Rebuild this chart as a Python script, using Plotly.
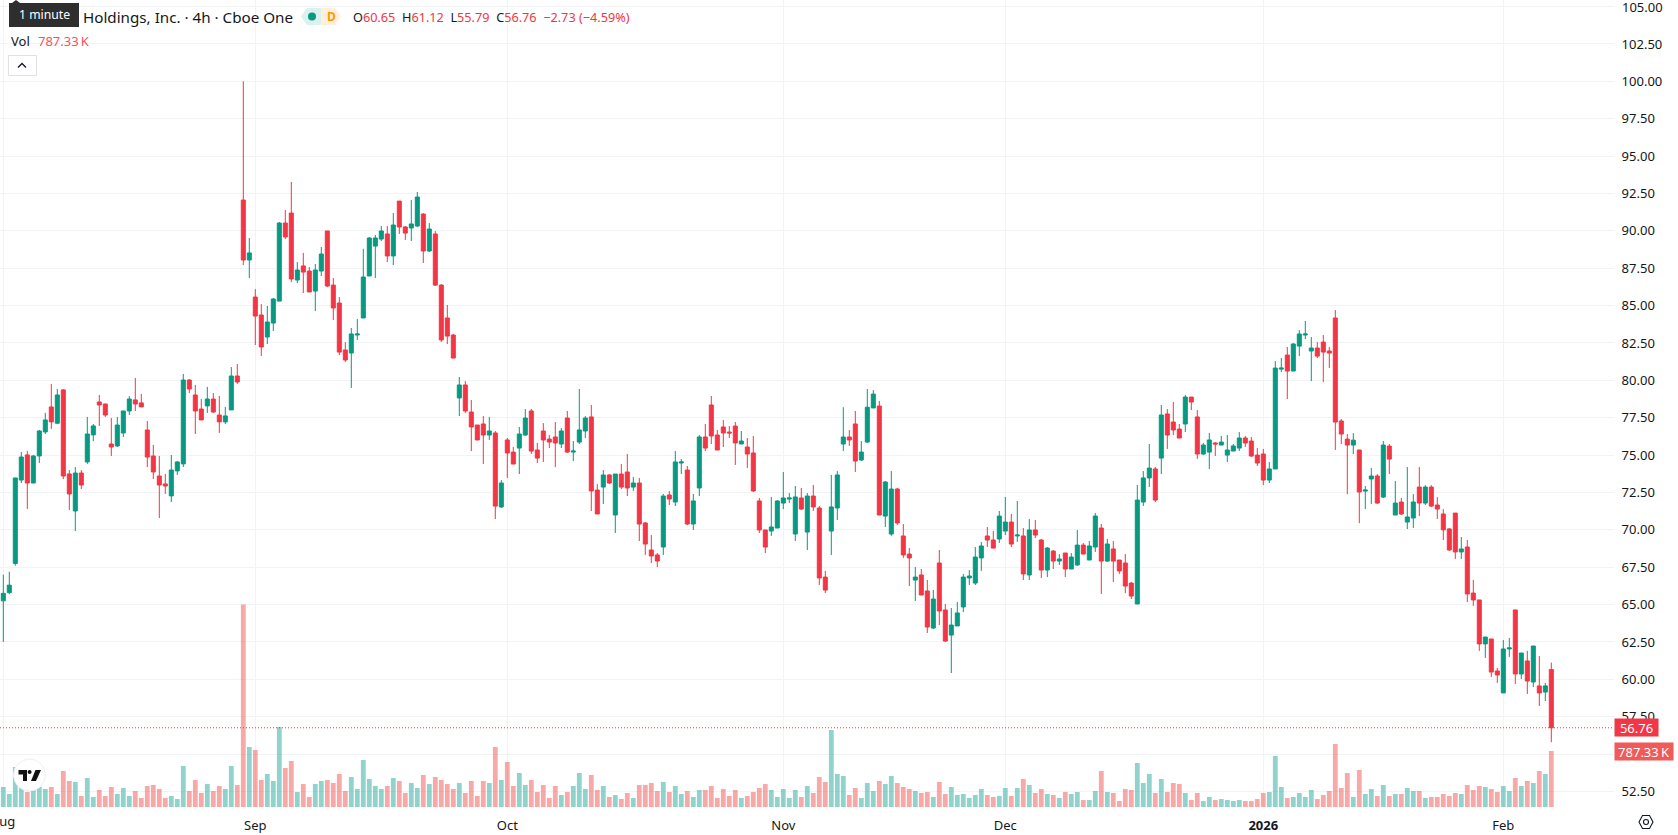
import plotly.graph_objects as go

# Four-hour OHLC bars and volume (thousands of shares), oldest first
opens = [
    65.25,65.8,67.75,73.33,75.01,73.13,74.94,76.55,78.22,77.13,
    79.36,73.74,71.26,73.8,74.54,76.35,78.55,78.42,75.74,75.61,
    76.48,77.95,78.69,78.49,76.68,74.94,73.6,73.07,72.27,73.94,
    74.41,80.02,79.02,78.08,78.29,78.75,77.68,77.22,78.02,80.29,
    92.06,88.05,85.57,84.37,82.9,83.83,85.3,90.52,91.19,86.71,
    87.65,87.31,85.97,87.31,89.99,86.37,85.17,82.03,81.83,83.03,
    84.17,86.98,88.98,89.45,89.79,88.32,91.99,90.26,90.19,90.32,
    91.12,88.65,89.79,86.37,84.17,83.03,78.82,79.69,77.88,77.01,
    77.08,76.34,76.48,71.53,76.01,75.2,75.47,76.34,77.95,75.34,
    76.61,76.07,76.21,75.74,77.48,75.2,75.87,76.61,77.55,72.66,
    72.86,73.67,70.99,73.73,73.87,72.86,73.13,70.46,68.65,68.32,
    68.85,72.33,71.86,74.47,74.0,70.39,72.8,76.21,78.35,76.34,
    76.88,76.54,76.94,75.74,75.54,75.14,71.93,69.99,69.92,70.12,
    71.79,72.06,69.72,72.13,69.85,72.26,71.46,66.84,69.92,71.46,
    75.74,76.21,77.08,74.67,75.87,78.15,78.28,70.92,69.72,72.73,
    69.59,68.38,66.64,66.98,65.91,63.43,67.78,64.64,62.96,63.57,
    64.84,66.78,66.44,68.12,69.59,69.32,69.39,69.92,70.52,69.59,
    69.59,66.98,69.99,69.32,67.31,68.58,67.91,68.45,67.38,67.65,
    68.98,67.98,68.85,70.12,67.91,68.72,67.98,67.78,66.44,65.04,
    71.86,73.47,74.07,74.8,77.75,77.21,76.74,77.08,78.88,77.55,
    75.07,75.2,75.81,75.67,75.0,75.27,75.47,76.14,75.94,75.0,
    75.07,73.33,74.07,80.75,81.69,80.62,82.29,83.03,81.96,82.16,
    82.56,81.96,84.17,77.28,76.07,75.67,75.34,72.59,73.4,73.6,
    72.19,75.6,70.99,71.86,70.52,70.79,72.86,71.79,72.86,71.66,
    71.06,70.06,71.12,68.52,68.85,65.77,65.31,62.37,62.7,60.56,
    59.09,62.03,64.64,60.36,61.23,59.82,59.56,59.15,60.65,
]
highs = [
    67.0,67.2,73.47,75.21,75.28,75.01,76.68,77.82,79.76,79.42,
    79.42,74.0,74.2,74.0,77.55,77.08,79.02,78.42,77.48,77.55,
    77.95,78.95,80.16,79.09,77.28,75.68,74.94,73.74,75.01,74.61,
    80.43,80.09,79.69,78.75,79.56,79.15,78.95,78.22,80.89,81.09,
    100.0,89.52,86.1,85.1,84.97,85.51,90.59,91.39,93.27,87.91,
    88.52,87.58,87.78,88.92,89.99,86.84,85.57,82.56,83.5,84.1,
    88.8,89.59,89.72,90.32,90.32,91.19,91.99,90.32,92.06,92.6,
    91.19,90.52,89.99,86.44,85.04,83.1,80.22,79.95,78.68,77.01,
    77.61,77.55,76.61,73.33,76.14,75.54,76.88,78.08,78.08,75.81,
    77.14,76.34,77.21,76.81,77.95,75.94,79.42,77.61,78.35,73.06,
    74.0,73.73,73.73,74.4,75.07,73.53,73.47,70.52,69.65,68.45,
    72.4,72.6,75.27,74.74,74.27,72.4,76.34,77.08,78.95,76.68,
    77.35,76.94,77.21,76.61,76.14,76.28,72.13,69.99,72.2,72.0,
    73.87,72.46,72.93,72.8,72.46,73.0,71.59,67.25,73.67,73.93,
    78.2,76.68,77.95,75.94,79.42,79.35,78.62,73.26,73.93,72.8,
    70.39,68.78,67.51,67.38,66.64,65.97,68.65,65.04,64.77,65.17,
    67.04,67.31,68.85,69.19,70.19,69.92,71.26,72.2,71.06,71.93,
    70.12,70.72,70.66,69.39,68.85,68.65,68.38,68.45,68.45,69.99,
    69.12,69.25,71.12,70.39,69.39,69.25,67.98,68.38,66.51,73.0,
    73.93,75.74,74.2,78.35,78.08,78.55,77.08,79.02,78.88,78.01,
    75.81,76.48,75.87,76.28,76.34,75.74,76.54,76.28,76.21,75.47,
    75.41,74.54,81.29,81.49,82.23,82.49,83.36,83.97,82.9,82.56,
    83.03,82.23,84.7,77.41,76.41,76.47,75.34,72.93,74.13,73.73,
    75.94,75.74,73.26,72.13,74.2,72.39,74.2,72.99,72.99,72.19,
    71.39,70.12,71.12,69.52,69.32,66.65,65.31,62.83,62.7,60.76,
    62.63,62.77,64.64,61.76,61.9,62.23,61.56,59.76,61.12,
]
lows = [
    62.5,65.7,67.6,73.13,71.40,73.13,74.47,76.41,76.75,77.08,
    73.4,71.33,69.92,72.73,74.41,75.94,76.95,77.55,74.94,75.54,
    76.21,77.68,77.95,78.22,74.2,73.4,70.79,72.4,71.86,73.67,
    74.2,79.15,76.41,77.35,77.82,77.82,76.48,77.08,78.02,79.76,
    87.71,86.84,82.36,81.63,82.43,83.3,85.3,89.45,86.58,86.51,
    85.84,85.91,84.64,86.98,86.24,84.03,81.69,81.23,79.49,82.7,
    84.17,86.98,86.84,89.32,87.91,87.71,89.79,89.39,89.32,90.26,
    87.85,88.58,86.31,82.56,82.43,81.49,77.61,77.81,75.27,76.01,
    74.4,76.01,70.72,71.46,73.47,74.4,73.73,76.28,75.07,74.47,
    74.54,75.47,74.2,75.47,75.14,74.6,75.74,76.14,71.26,71.06,
    71.73,73.06,69.79,72.73,72.26,72.6,69.25,68.32,67.78,67.51,
    68.32,71.66,71.59,73.73,70.32,69.99,72.26,75.27,75.74,75.34,
    75.54,76.14,74.34,75.74,74.13,72.53,69.79,68.45,69.59,70.12,
    71.39,71.79,69.25,71.33,68.65,71.26,66.31,65.77,68.32,70.66,
    75.27,75.61,73.87,74.6,75.81,78.15,70.99,70.19,69.59,70.32,
    68.12,66.24,65.24,65.64,63.1,63.37,63.63,62.5,60.42,63.57,
    64.5,66.31,66.31,67.25,68.85,68.78,69.12,69.65,68.85,69.19,
    66.64,66.64,69.45,66.78,66.84,67.38,67.65,66.84,67.38,67.58,
    68.38,67.98,68.52,65.71,67.85,66.51,67.05,65.77,65.37,65.04,
    71.59,72.86,71.86,73.73,75.41,76.34,76.14,76.54,78.01,74.74,
    75.0,74.07,74.94,75.67,74.54,75.27,75.27,75.54,74.87,74.27,
    73.0,73.13,74.07,80.55,78.75,80.62,81.62,82.76,79.95,81.49,
    79.89,80.82,75.34,75.74,72.39,75.07,70.45,71.39,71.72,71.72,
    72.13,73.73,70.99,70.99,70.05,70.12,70.92,71.66,71.52,70.72,
    69.32,68.59,68.05,68.05,65.17,64.91,61.9,61.43,60.16,59.76,
    59.09,61.5,59.69,60.02,59.02,59.49,58.22,58.55,55.79,
]
closes = [
    65.75,66.3,73.47,74.87,73.13,74.94,76.61,77.35,77.22,79.02,
    73.6,72.4,73.8,73.0,76.41,76.95,78.35,77.68,75.54,77.01,
    77.95,78.75,78.42,78.22,74.87,73.87,73.0,72.93,74.0,74.54,
    80.02,79.42,77.95,77.35,78.75,77.88,77.22,77.62,80.29,79.89,
    88.05,88.52,84.3,82.23,83.9,85.44,90.52,89.59,86.78,87.38,
    87.24,85.91,87.38,88.45,86.31,84.84,81.89,81.36,83.10,83.10,
    86.91,89.52,89.52,89.99,88.32,90.39,90.26,89.85,90.46,92.26,
    88.65,90.12,86.37,82.7,82.96,81.49,79.69,77.95,76.88,76.01,
    76.34,76.61,71.59,73.13,75.14,74.4,76.41,77.48,75.27,74.8,
    76.01,75.87,75.81,76.61,75.2,75.27,76.68,77.48,72.6,71.06,
    73.67,73.13,73.73,72.86,72.8,73.13,70.39,69.05,68.25,67.91,
    72.26,72.06,74.54,74.54,70.39,71.93,76.21,75.47,76.28,75.34,
    76.48,76.48,75.81,75.94,75.07,72.6,69.99,68.85,70.19,71.93,
    72.13,72.13,72.2,71.39,72.26,71.53,66.78,65.97,71.53,73.67,
    76.21,76.01,74.6,75.2,78.2,79.08,70.99,73.2,72.73,70.46,
    68.32,68.12,66.84,65.64,63.5,65.37,64.57,62.56,63.63,64.44,
    66.84,66.91,68.18,68.92,69.32,68.78,70.92,70.52,69.05,69.65,
    67.05,69.99,69.65,67.31,68.78,67.91,68.05,67.38,68.18,68.98,
    68.38,68.92,70.92,67.91,69.05,67.91,67.25,66.24,65.57,71.99,
    73.47,74.13,71.99,77.68,76.34,76.68,76.14,78.88,78.55,75.07,
    75.67,76.01,75.74,75.87,75.34,75.61,76.14,75.81,74.94,74.47,
    73.33,74.07,80.82,80.82,80.62,82.43,83.1,83.1,82.16,81.62,
    81.89,81.82,77.21,76.41,75.67,76.0,72.53,72.66,73.6,71.79,
    75.67,74.73,71.79,71.06,70.86,71.86,71.79,72.86,71.59,71.39,
    70.0,68.65,68.52,68.72,65.71,65.31,62.37,62.83,60.49,60.29,
    62.03,62.1,60.36,61.76,59.89,62.23,59.09,59.56,56.76,
]
volumes = [
    281,183,562,267,211,253,281,253,281,183,
    506,366,352,155,408,141,239,155,281,183,
    267,155,225,127,295,309,253,127,155,112,
    576,225,380,197,323,225,295,253,576,309,
    2847,844,801,380,464,366,1125,548,647,211,
    323,141,323,366,380,337,464,225,422,253,
    661,394,295,253,295,408,366,197,337,267,
    450,323,422,380,323,253,337,197,366,155,
    366,337,844,380,633,295,478,309,380,211,
    309,127,295,169,211,295,478,253,450,239,
    295,141,169,112,197,127,309,309,337,225,
    352,211,295,183,225,141,239,239,295,127,
    253,155,239,127,155,211,267,323,239,141,
    253,127,239,141,295,197,422,352,1083,464,
    436,169,267,127,337,225,366,323,436,337,
    281,253,225,197,211,141,352,183,281,169,
    183,127,169,253,169,141,155,267,155,267,
    394,309,197,253,183,169,127,211,183,211,
    98,98,225,506,211,197,84,253,239,619,
    337,464,197,394,211,337,323,197,98,197,
    84,141,98,112,98,84,98,84,84,112,
    197,211,717,281,127,141,197,141,239,112,
    169,225,886,267,478,141,520,183,253,155,
    309,155,183,183,267,225,225,127,141,141,
    183,155,197,183,309,239,295,281,253,211,
    295,225,408,295,366,337,506,464,787.33,
]

month_bars = [0, 42, 84, 130, 167, 210, 250]
month_labels = ["Aug", "Sep", "Oct", "Nov", "Dec", "<b>2026</b>", "Feb"]
price_ticks = [52.5 + 2.5 * k for k in range(22)]
# 55.00 sits underneath the volume tag, so its label stays blank
price_labels = ["" if v == 55.0 else f"{v:.2f}" for v in price_ticks]

last_close = 56.76
last_volume = 787.33

UP = "#089981"
DOWN = "#F23645"
VOL_UP = "rgba(34,166,154,0.5)"
VOL_DOWN = "rgba(240,83,79,0.5)"
GRID = "#F2F3F4"
INK = "#131722"
FONT = "Noto Sans, sans-serif"

W, H = 1678, 835
PLOT_W, PLOT_H = 1614, 807


def px(x):
    return x / PLOT_W


def py(y):
    return (PLOT_H - y) / PLOT_H


def label(x, y, text, size=13, color=INK, **kw):
    return dict(xref="paper", yref="paper", x=px(x), y=py(y), text=text, showarrow=False,
                xanchor=kw.pop("xanchor", "left"), yanchor="middle",
                font=dict(family=FONT, size=size, color=color), **kw)


def rect(x0, y0, x1, y1, fill, line="rgba(0,0,0,0)", width=0):
    return dict(type="rect", xref="paper", yref="paper", x0=px(x0), x1=px(x1), y0=py(y1), y1=py(y0),
                fillcolor=fill, line=dict(color=line, width=width), layer="above")


def circle(cx, cy, r, fill, line="rgba(0,0,0,0)", width=0):
    return dict(type="circle", xref="paper", yref="paper", x0=px(cx - r), x1=px(cx + r),
                y0=py(cy + r), y1=py(cy - r), fillcolor=fill,
                line=dict(color=line, width=width), layer="above")


def poly(points, fill="rgba(0,0,0,0)", line="rgba(0,0,0,0)", width=0, closed=True):
    d = "M " + " L ".join(f"{px(a):.5f} {py(b):.5f}" for a, b in points) + (" Z" if closed else "")
    return dict(type="path", xref="paper", yref="paper", path=d, fillcolor=fill,
                line=dict(color=line, width=width), layer="above")


bars = list(range(len(closes)))
fig = go.Figure()

fig.add_trace(go.Candlestick(
    x=bars, open=opens, high=highs, low=lows, close=closes,
    increasing=dict(line=dict(color=UP, width=1), fillcolor=UP),
    decreasing=dict(line=dict(color=DOWN, width=1), fillcolor=DOWN),
    whiskerwidth=0, showlegend=False, hoverinfo="skip",
))
fig.add_trace(go.Bar(
    x=bars, y=volumes, yaxis="y2", width=0.8, showlegend=False, hoverinfo="skip",
    marker=dict(color=[VOL_DOWN if c < o else VOL_UP for o, c in zip(opens, closes)], line=dict(width=0)),
))

shapes = [
    # last-price guide
    dict(type="line", xref="paper", x0=0, x1=1, yref="y", y0=last_close, y1=last_close,
         line=dict(color=DOWN, width=1, dash="1px,2px"), layer="above"),
    # tooltip over the legend
    rect(9, 3, 79, 27, "#2E2E2E"),
    poly([(12, 3), (16, 0), (20, 3)], fill="#2E2E2E"),
    # market status pills
    poly([(307, 8), (321, 8), (321, 25), (307, 25), (301, 16.5)], fill="#DAF1EE"),
    poly([(321, 8), (335, 8), (341, 16.5), (335, 25), (321, 25)], fill="#FFF0DC"),
    circle(312, 16.5, 4, UP),
    # collapse button
    rect(8.5, 55.5, 36.5, 75.5, "#FFFFFF", line="#DFE1E6", width=1),
    poly([(18, 67.5), (22, 63.5), (26, 67.5)], line=INK, width=1.3, closed=False),
    # watermark badge
    circle(29.5, 775, 16, "#FFFFFF", line="#EDEEF0", width=1),
    poly([(18.5, 770), (27, 770), (27, 781), (23, 781), (23, 774.5), (18.5, 774.5)], fill="#111111"),
    circle(29.6, 772, 2, "#111111"),
    poly([(41, 770), (36, 781), (31, 781), (35.5, 770)], fill="#111111"),
    # settings hexagon
    poly([(1639, 822), (1642.5, 815.5), (1649.5, 815.5), (1653, 822), (1649.5, 828.5), (1642.5, 828.5)],
         line=INK, width=1.1),
    circle(1646, 822, 2.5, "rgba(0,0,0,0)", line=INK, width=1.1),
]

ohlc = ('<span style="color:%s">O</span><span style="color:%s">60.65</span>&nbsp;&nbsp;'
        '<span style="color:%s">H</span><span style="color:%s">61.12</span>&nbsp;&nbsp;'
        '<span style="color:%s">L</span><span style="color:%s">55.79</span>&nbsp;&nbsp;'
        '<span style="color:%s">C</span><span style="color:%s">56.76</span>&nbsp;&nbsp;'
        '<span style="color:%s">−2.73 (−4.59%%)</span>') % (INK, DOWN, INK, DOWN, INK, DOWN, INK, DOWN, DOWN)

annotations = [
    label(81, 16.5, "Holdings, Inc. · 4h · Cboe One", size=15.2),
    label(16.5, 15, "1 minute", size=12.2, color="#FFFFFF"),
    label(331, 16.5, "<b>D</b>", size=12, color="#FF9800", xanchor="center"),
    label(351, 16.5, ohlc, size=12.7),
    label(9, 41, "Vol", size=13),
    label(36, 41, "787.33\u2009K", size=13, color="#F7525F"),
    # edge labels that the axes would otherwise leave out
    dict(xref="x", yref="paper", x=month_bars[0], y=py(821), text=month_labels[0], showarrow=False,
         xanchor="center", yanchor="middle", font=dict(family=FONT, size=13, color=INK)),
    dict(xref="paper", yref="y", x=px(1622), y=price_ticks[-1], text=price_labels[-1], showarrow=False,
         xanchor="left", yanchor="middle", xshift=-2, font=dict(family=FONT, size=13, color=INK)),
    dict(xref="paper", yref="y", x=1, y=last_close, text=f"{last_close:.2f}", showarrow=False,
         xanchor="left", yanchor="middle", bgcolor=DOWN, width=43, height=17, align="center",
         font=dict(family=FONT, size=13, color="#FFFFFF"), borderpad=0),
    dict(xref="paper", yref="y2", x=1, y=last_volume, text="787.33\u2009K", showarrow=False,
         xanchor="left", yanchor="middle", bgcolor="#F05A58", width=58, height=17, align="center",
         font=dict(family=FONT, size=13, color="#FFFFFF"), borderpad=0),
]

fig.update_layout(
    width=W, height=H, autosize=False,
    margin=dict(l=0, r=W - PLOT_W, t=0, b=H - PLOT_H),
    paper_bgcolor="#FFFFFF", plot_bgcolor="#FFFFFF",
    boxgap=0.33, boxgroupgap=0,
    font=dict(family=FONT, size=13, color=INK),
    shapes=shapes, annotations=annotations,
    xaxis=dict(
        range=[-0.55, 268.45], rangeslider=dict(visible=False),
        tickmode="array", tickvals=month_bars, ticktext=month_labels, tickangle=0,
        showgrid=True, gridcolor=GRID, gridwidth=1, zeroline=False, showline=False,
        ticks="outside", ticklen=6, tickcolor="rgba(0,0,0,0)",
        tickfont=dict(family=FONT, size=13, color=INK),
    ),
    yaxis=dict(
        range=[51.46, 105.44], side="right",
        tickmode="array", tickvals=price_ticks, ticktext=price_labels,
        showgrid=True, gridcolor=GRID, gridwidth=1, zeroline=False, showline=False,
        ticks="outside", ticklen=4, tickcolor="rgba(0,0,0,0)",
        tickfont=dict(family=FONT, size=13, color=INK),
    ),
    yaxis2=dict(
        overlaying="y", side="right", range=[0, 11346],
        showgrid=False, zeroline=False, showticklabels=False, ticks="", showline=False,
    ),
)

fig.write_html("out.html", config=dict(displayModeBar=False))
